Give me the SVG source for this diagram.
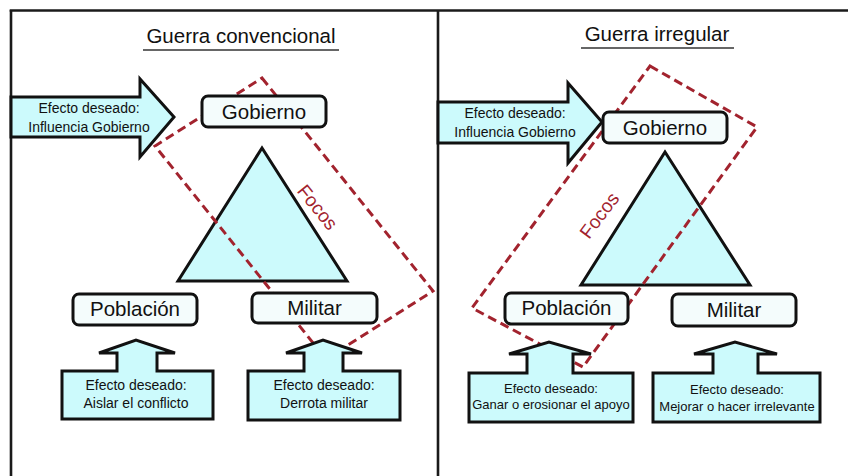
<svg xmlns="http://www.w3.org/2000/svg" width="848" height="476" viewBox="0 0 848 476">
<style>
text{font-family:"Liberation Sans",Arial,sans-serif;fill:#111}
.title{font-size:20.5px;text-anchor:middle}
.ul{stroke:#333;stroke-width:1.6}
.frame{stroke:#1a1a1a;stroke-width:2.6;fill:none}
.shape{fill:#CCFAFC;stroke:#111;stroke-width:3;stroke-linejoin:miter}
.box{fill:#F4FCFC;stroke:#111;stroke-width:3}
.lbl{font-size:20.5px;text-anchor:middle}
.eff{font-size:14px;text-anchor:middle}
.eff2{font-size:13px;text-anchor:middle}
.focus{fill:none;stroke:#A2232E;stroke-width:3;stroke-dasharray:9 5}
.focos{font-size:19px;text-anchor:middle;fill:#A2232E}
</style>
<rect width="848" height="476" fill="#fff"/>
<g id="frame">
<line class="frame" x1="9.7" y1="10.5" x2="848" y2="10.5"/>
<line class="frame" x1="11" y1="10" x2="11" y2="476"/>
<line class="frame" x1="438" y1="10" x2="438" y2="476"/>
</g>
<g id="titles">
<text class="title" x="241" y="43">Guerra convencional</text>
<line class="ul" x1="143" y1="50" x2="339" y2="50"/>
<text class="title" x="657" y="41">Guerra irregular</text>
<line class="ul" x1="581" y1="48" x2="734" y2="48"/>
</g>
<g id="triangle-left"><polygon class="shape" points="262,148 178,281 347,281"/></g>
<g id="triangle-right"><polygon class="shape" points="665,152 581,285 750,285"/></g>
<g id="effect-gov-left">
<polygon class="shape" points="11,97 140,97 140,79 174,117 140,157 140,137 11,137"/>
<text class="eff" x="89" y="113">Efecto deseado:</text>
<text class="eff" x="89" y="132">Influencia Gobierno</text>
</g>
<g id="effect-gov-right">
<polygon class="shape" points="438,102 568,102 568,83 602,122 568,163 568,143 438,143"/>
<text class="eff" x="515" y="118">Efecto deseado:</text>
<text class="eff" x="515" y="136.5">Influencia Gobierno</text>
</g>
<g id="focus-regions">
<polygon class="focus" points="262,78 433,291 326,359 155,146"/>
<polygon class="focus" points="650,66 757,127 583,367 472,308"/>
</g>
<g id="gobierno-left"><rect class="box" x="202" y="96" width="124" height="31" rx="6"/><text class="lbl" x="264" y="119">Gobierno</text></g>
<g id="poblacion-left"><rect class="box" x="73" y="294" width="124" height="31" rx="6"/><text class="lbl" x="135" y="316">Población</text></g>
<g id="militar-left"><rect class="box" x="252" y="293" width="125" height="30" rx="6"/><text class="lbl" x="314.5" y="315">Militar</text></g>
<g id="gobierno-right"><rect class="box" x="603" y="112" width="124" height="31" rx="6"/><text class="lbl" x="665" y="135">Gobierno</text></g>
<g id="poblacion-right"><rect class="box" x="505" y="293" width="123" height="31" rx="6"/><text class="lbl" x="566.5" y="315">Población</text></g>
<g id="militar-right"><rect class="box" x="672" y="294" width="124" height="32" rx="6"/><text class="lbl" x="734" y="317">Militar</text></g>
<g id="effect-pob-left">
<polygon class="shape" points="62,371 117,371 117,353 99,353 136,340 175,353 157,353 157,371 213,371 213,419 62,419"/>
<text class="eff" x="136" y="390">Efecto deseado:</text>
<text class="eff" x="136" y="408">Aislar el conflicto</text>
</g>
<g id="effect-mil-left">
<polygon class="shape" points="248,371 304,371 304,353 286,353 323,340 362,353 343,353 343,371 400,371 400,420 248,420"/>
<text class="eff" x="324" y="390">Efecto deseado:</text>
<text class="eff" x="324" y="408">Derrota militar</text>
</g>
<g id="effect-pob-right">
<polygon class="shape" points="469,373 527,373 527,354 509,354 549,342 591,354 573,354 573,373 633,373 633,422 469,422"/>
<text class="eff2" x="551" y="393">Efecto deseado:</text>
<text class="eff2" x="551" y="409">Ganar o erosionar el apoyo</text>
</g>
<g id="effect-mil-right">
<polygon class="shape" points="653,373 713,373 713,354 694,354 735,342 777,354 758,354 758,373 820,373 820,422 653,422"/>
<text class="eff2" x="737" y="394">Efecto deseado:</text>
<text class="eff2" x="737" y="411">Mejorar o hacer irrelevante</text>
</g>
<g id="focos-labels">
<text class="focos" transform="translate(318,207) rotate(51)" y="7">Focos</text>
<text class="focos" transform="translate(599,215) rotate(-53)" y="7">Focos</text>
</g>
</svg>
